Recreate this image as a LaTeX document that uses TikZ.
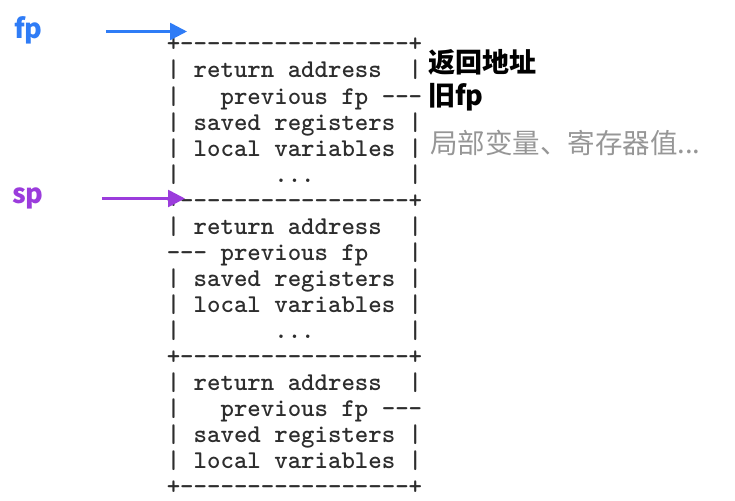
\documentclass[tikz,border=0pt]{standalone}
\usepackage{fontspec}
\newfontfamily\cjk{Noto Sans CJK SC}
\usetikzlibrary{arrows.meta,positioning}
\definecolor{fpblue}{RGB}{47,124,246}
\definecolor{sppurple}{RGB}{155,60,220}
\definecolor{artgray}{RGB}{45,45,45}
\definecolor{notegray}{RGB}{150,150,150}

\begin{document}
\begin{tikzpicture}[x=1pt,y=-1pt,
  row/.style={anchor=base west,inner sep=0pt,artgray,
    font=\ttfamily\bfseries\fontsize{25.6}{26}\selectfont},
  reg/.style={anchor=base west,inner sep=0pt,
    font=\cjk\bfseries\fontsize{27}{27}\selectfont},
  note/.style={anchor=base west,inner sep=0pt,
    font=\cjk\fontsize{27.5}{27.5}\selectfont},
  ptr/.style={-{Triangle[length=17pt,width=17pt]},line width=2.6pt}
]
  \useasboundingbox (0,0) rectangle (735,500);

  % Stack frames, one text row at a time
  \foreach \line [count=\i from 0] in {
    {+-----------------+},
    {|~return~address~~|},
    {|~~~previous~fp~---},
    {|~saved~registers~|},
    {|~local~variables~|},
    {|~~~~~~~{...}~~~~~~~|},
    {+-----------------+},
    {|~return~address~~|},
    {---~previous~fp~~~|},
    {|~saved~registers~|},
    {|~local~variables~|},
    {|~~~~~~~{...}~~~~~~~|},
    {+-----------------+},
    {|~return~address~~|},
    {|~~~previous~fp~---},
    {|~saved~registers~|},
    {|~local~variables~|},
    {+-----------------+}}
    \node[row] (r\i) at (166.6,52+26*\i) {\line};

  % Notes on the right
  \node[reg] (ret) at (428,73) {返回地址};
  \node[reg] (oldfp) at (428,106) {旧fp};
  \node[note,notegray] (locals) at (430,153) {局部变量、寄存器值...};

  % Pointers
  \node[reg,fpblue] (fp) at (14,39) {fp};
  \node[reg,sppurple] (sp) at (12,203) {sp};
  \coordinate (fphead) at (187,31.5);
  \coordinate (sphead) at (185,198.5);
  \draw[ptr,fpblue,shorten <=63pt] (fphead -| fp.east) -- (fphead);
  \draw[ptr,sppurple,shorten <=58pt] (sphead -| sp.east) -- (sphead);
\end{tikzpicture}
\end{document}
